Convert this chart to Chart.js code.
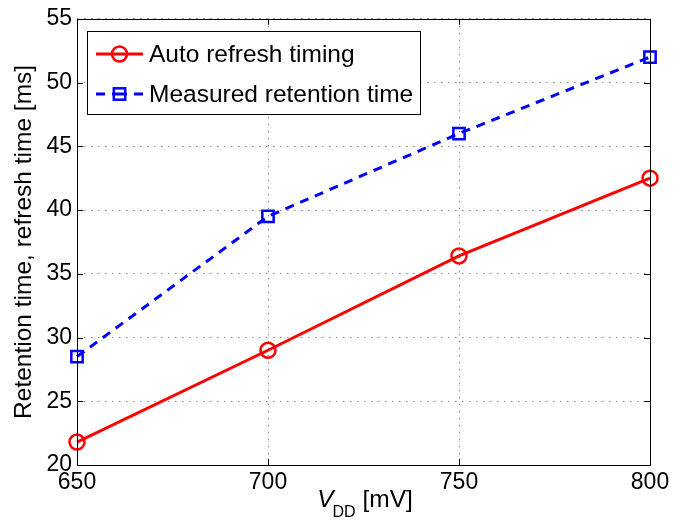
<!DOCTYPE html>
<html>
<head>
<meta charset="utf-8">
<script src="https://cdn.jsdelivr.net/npm/chart.js@4"></script>
<style>
  html, body { margin: 0; padding: 0; background: #fff; }
  #wrap { width: 696px; height: 525px; }
</style>
</head>
<body>
<div id="wrap"><canvas id="c" width="696" height="525"></canvas></div>
<script>
// ---- data ----
const vdd = [650, 700, 750, 800];                 // V_DD [mV]
const autoRefresh = [21.8, 29.0, 36.4, 42.5];     // Auto refresh timing [ms]
const measuredRetention = [28.5, 39.5, 46.0, 52.0]; // Measured retention time [ms]
const seriesNames = ['Auto refresh timing', 'Measured retention time'];
const xTicks = [650, 700, 750, 800];
const yTicks = [20, 25, 30, 35, 40, 45, 50, 55];
const yTitle = 'Retention time, refresh time [ms]';

const FONT = '"Liberation Sans", Arial, Helvetica, sans-serif';
const RED = '#ff0000';
const BLUE = '#0000ff';

const toPts = ys => vdd.map((x, i) => ({ x: x, y: ys[i] }));

// box, inward ticks, legend, x title
const decor = {
  id: 'decor',
  afterDraw(chart) {
    const { ctx, chartArea: a, scales } = chart;
    const xs = scales.x, ys = scales.y;
    ctx.save();
    ctx.strokeStyle = '#000';
    ctx.lineWidth = 1;
    // box
    ctx.strokeRect(Math.round(a.left) + 0.5, Math.round(a.top) + 0.5,
                   Math.round(a.right - a.left), Math.round(a.bottom - a.top));
    // inward ticks
    const tl = 6;
    ctx.beginPath();
    xTicks.forEach(v => {
      const px = Math.round(xs.getPixelForValue(v)) + 0.5;
      ctx.moveTo(px, a.bottom); ctx.lineTo(px, a.bottom - tl);
      ctx.moveTo(px, a.top); ctx.lineTo(px, a.top + tl);
    });
    yTicks.forEach(v => {
      const py = Math.round(ys.getPixelForValue(v)) + 0.5;
      ctx.moveTo(a.left, py); ctx.lineTo(a.left + tl, py);
      ctx.moveTo(a.right, py); ctx.lineTo(a.right - tl, py);
    });
    ctx.stroke();

    // legend
    const lx = 87, ly = 31, lw = 333, lh = 83;
    ctx.fillStyle = '#fff';
    ctx.fillRect(lx, ly, lw, lh);
    ctx.strokeRect(lx + 0.5, ly + 0.5, lw, lh);
    const rows = [54, 94];
    const mx = 119.5;
    // row 1
    ctx.lineWidth = 3;
    ctx.strokeStyle = RED;
    ctx.beginPath(); ctx.moveTo(96, rows[0]); ctx.lineTo(143, rows[0]); ctx.stroke();
    ctx.lineWidth = 2.5;
    ctx.beginPath(); ctx.arc(mx, rows[0], 7.5, 0, Math.PI * 2); ctx.stroke();
    // row 2
    ctx.strokeStyle = BLUE;
    ctx.lineWidth = 3;
    ctx.beginPath();
    ctx.moveTo(96, rows[1]); ctx.lineTo(105, rows[1]);
    ctx.moveTo(112, rows[1]); ctx.lineTo(127, rows[1]);
    ctx.moveTo(134, rows[1]); ctx.lineTo(143, rows[1]);
    ctx.stroke();
    ctx.lineWidth = 2.5;
    ctx.strokeRect(mx - 5.7, rows[1] - 5.7, 11.4, 11.4);
    ctx.fillStyle = '#000';
    ctx.font = '24.5px ' + FONT;
    ctx.textAlign = 'left';
    ctx.textBaseline = 'middle';
    ctx.fillText(seriesNames[0], 149, rows[0] + 1);
    ctx.fillText(seriesNames[1], 149, rows[1] + 1);

    // x title: V_DD [mV]
    ctx.textBaseline = 'alphabetic';
    const cx = (a.left + a.right) / 2;
    ctx.font = 'italic 24.5px ' + FONT;
    const wV = ctx.measureText('V').width;
    ctx.font = '16px ' + FONT;
    const wDD = ctx.measureText('DD').width;
    ctx.font = '24.5px ' + FONT;
    const wU = ctx.measureText(' [mV]').width;
    let x0 = cx - (wV + wDD + wU) / 2 + 2;
    ctx.font = 'italic 24.5px ' + FONT;
    ctx.fillText('V', x0, 507);
    ctx.font = '16px ' + FONT;
    ctx.fillText('DD', x0 + wV - 1, 517);
    ctx.font = '24.5px ' + FONT;
    ctx.fillText(' [mV]', x0 + wV + wDD - 1, 507);
    ctx.restore();
  }
};

new Chart(document.getElementById('c'), {
  type: 'line',
  data: {
    datasets: [
      {
        label: seriesNames[0],
        data: toPts(autoRefresh),
        borderColor: RED,
        borderWidth: 3,
        pointStyle: 'circle',
        pointRadius: 7.5,
        pointBorderWidth: 2.5,
        pointBorderColor: RED,
        pointBackgroundColor: 'rgba(0,0,0,0)',
        fill: false,
        tension: 0,
        clip: false
      },
      {
        label: seriesNames[1],
        data: toPts(measuredRetention),
        borderColor: BLUE,
        borderWidth: 3,
        borderDash: [9, 7],
        pointStyle: 'rect',
        pointRadius: 8,
        pointBorderWidth: 2.5,
        pointBorderColor: BLUE,
        pointBackgroundColor: 'rgba(0,0,0,0)',
        fill: false,
        tension: 0,
        clip: false
      }
    ]
  },
  options: {
    responsive: false,
    animation: false,
    devicePixelRatio: 1,
    layout: { padding: { left: 0, top: 17, right: 46, bottom: 0 } },
    plugins: { legend: { display: false }, tooltip: { enabled: false } },
    scales: {
      x: {
        type: 'linear',
        min: 650, max: 800,
        afterBuildTicks: s => { s.ticks = xTicks.map(v => ({ value: v })); },
        afterFit: s => { s.height = 60; },
        ticks: { font: { family: FONT, size: 23 }, color: '#000', padding: 4, maxRotation: 0 },
        grid: { color: '#8a8a8a', lineWidth: 1, drawTicks: false, tickBorderDash: [1, 5] , borderDash: [1.5, 5.5] },
        border: { display: false, dash: [1.5, 5.5] },
        title: { display: false }
      },
      y: {
        type: 'linear',
        min: 20, max: 55,
        afterBuildTicks: s => { s.ticks = yTicks.map(v => ({ value: v })); },
        afterFit: s => { s.width = 77; },
        ticks: { font: { family: FONT, size: 23 }, color: '#000', padding: 5 },
        grid: { color: '#8a8a8a', lineWidth: 1, drawTicks: false },
        border: { display: false, dash: [1.5, 5.5] },
        title: { display: true, text: yTitle, color: '#000', font: { family: FONT, size: 24.5 }, padding: { top: 10, bottom: 0 } }
      }
    }
  },
  plugins: [decor]
});
</script>
</body>
</html>
